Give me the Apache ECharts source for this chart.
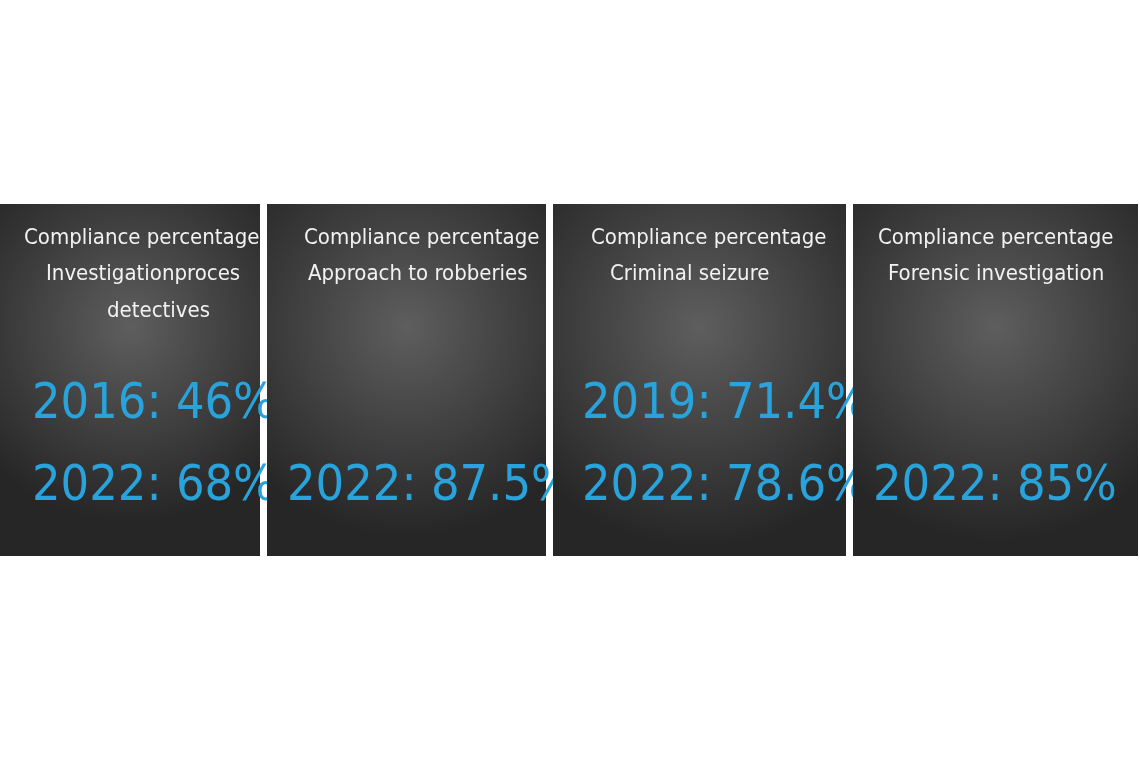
<!DOCTYPE html>
<html><head><meta charset="utf-8">
<script src="https://cdn.jsdelivr.net/npm/echarts@6/dist/echarts.min.js"></script>
<style>html,body{margin:0;padding:0;background:#fff}#c{width:1140px;height:760px}</style>
</head><body><div id="c"></div>
<script>
const titles = [
  ["Compliance percentage", "Investigationproces", "detectives"],
  ["Compliance percentage", "Approach to robberies"],
  ["Compliance percentage", "Criminal seizure"],
  ["Compliance percentage", "Forensic investigation"]
];
const years = [["2016","2022"],["2022"],["2019","2022"],["2022"]];
const values = [["46%","68%"],["87.5%"],["71.4%","78.6%"],["85%"]];

// layout
const panels = [[0,260],[267,546],[553,846],[853,1138]];
const titleX = [[24,46,107],[304,308],[591,610],[878,888]];
const valueX = [32,287,582,873];
const panelTop = 204, panelBottom = 556;
const gfx = [];
panels.forEach((p,i)=>{
  gfx.push({type:'rect',shape:{x:p[0],y:panelTop,width:p[1]-p[0],height:panelBottom-panelTop},
    style:{fill:new echarts.graphic.RadialGradient(0.5,0.35,0.75,[{offset:0,color:'#5e5e5e'},{offset:0.6,color:'#3c3c3c'},{offset:1,color:'#262626'}])}});
  titles[i].forEach((t,j)=>{
    gfx.push({type:'text',x:titleX[i][j],y:238+j*36.5,style:{text:t,fill:'#f2f2f2',font:'22px "Liberation Sans Narrow", "DejaVu Sans Condensed", sans-serif',textVerticalAlign:'middle',textAlign:'left'}});
  });
  const n = years[i].length;
  years[i].forEach((y,j)=>{
    const yy = n===2 ? (j===0?405:487) : 487;
    gfx.push({type:'text',x:valueX[i],y:yy,style:{text:y+': '+values[i][j],fill:'#29a3dc',font:'50px "Liberation Sans Narrow", "DejaVu Sans Condensed", sans-serif',textVerticalAlign:'middle',textAlign:'left'}});
  });
});
const chart = echarts.init(document.getElementById('c'));
chart.setOption({backgroundColor:'#fff',graphic:gfx});
</script></body></html>
